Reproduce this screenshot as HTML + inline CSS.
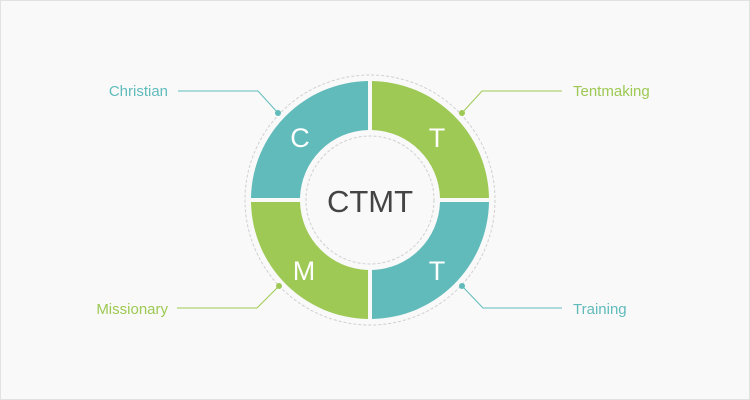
<!DOCTYPE html>
<html><head><style>
html,body{margin:0;padding:0;background:#fff}
svg{display:block}
</style></head><body>
<svg width="750" height="400" xmlns="http://www.w3.org/2000/svg" font-family="Liberation Sans, sans-serif">
<rect x="0.5" y="0.5" width="749" height="399" fill="#f9f9f9" stroke="#e2e2e2"/>
<circle cx="370" cy="200" r="125" fill="none" stroke="#d0d0d0" stroke-dasharray="3,2"/>
<!-- quadrants -->
<path d="M368,81 A119,119 0 0 0 251,198 L300,198 A70,70 0 0 1 368,130 Z" fill="#61bbbb"/>
<path d="M372,81 A119,119 0 0 1 489,198 L440,198 A70,70 0 0 0 372,130 Z" fill="#9dc954"/>
<path d="M372,319 A119,119 0 0 0 489,202 L440,202 A70,70 0 0 1 372,270 Z" fill="#61bbbb"/>
<path d="M368,319 A119,119 0 0 1 251,202 L300,202 A70,70 0 0 0 368,270 Z" fill="#9dc954"/>
<circle cx="370" cy="200" r="64" fill="#f9f9f9" stroke="#d0d0d0" stroke-dasharray="3,2"/>
<g fill="#fff" font-size="27" text-anchor="middle">
<text x="300" y="147">C</text>
<text x="437" y="147">T</text>
<text x="437" y="280">T</text>
<text x="304" y="280">M</text>
</g>
<text x="370" y="212" font-size="31" fill="#444" text-anchor="middle">CTMT</text>
<g fill="none" stroke-width="1">
<polyline points="178,91 258,91 278,113" stroke="#61bbbb"/>
<polyline points="562,91 482,91 462,113" stroke="#9dc954"/>
<polyline points="177,308 257,308 279,286" stroke="#9dc954"/>
<polyline points="562,308 483,308 462,286" stroke="#61bbbb"/>
</g>
<circle cx="278" cy="113" r="3" fill="#61bbbb"/>
<circle cx="462" cy="113" r="3" fill="#9dc954"/>
<circle cx="279" cy="286" r="3" fill="#9dc954"/>
<circle cx="462" cy="286" r="3" fill="#61bbbb"/>
<g font-size="15">
<text x="168" y="96" fill="#61bbbb" text-anchor="end">Christian</text>
<text x="573" y="96" fill="#9dc954">Tentmaking</text>
<text x="168" y="314" fill="#9dc954" text-anchor="end">Missionary</text>
<text x="573" y="314" fill="#61bbbb">Training</text>
</g>
</svg>
</body></html>
